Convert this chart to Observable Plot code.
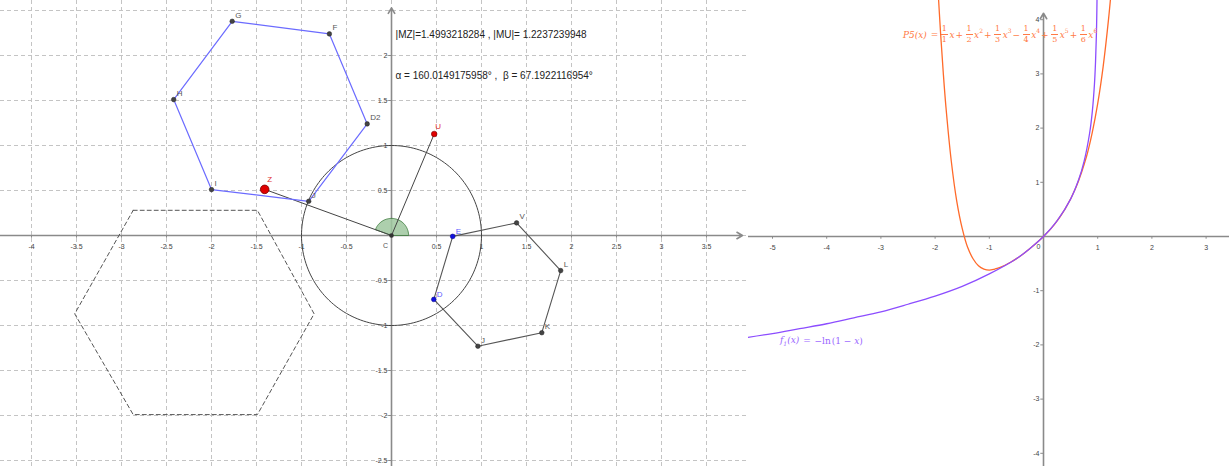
<!DOCTYPE html>
<html>
<head>
<meta charset="utf-8">
<script src="https://cdn.jsdelivr.net/npm/d3@7"></script>
<script src="https://cdn.jsdelivr.net/npm/@observablehq/plot@0.6"></script>
<style>
  html, body { margin: 0; padding: 0; background: #fff; }
  #wrap { position: relative; width: 1229px; height: 466px; overflow: hidden; font-family: "Liberation Sans", Arial, sans-serif; }
  #left { position: absolute; left: 0; top: 0; }
  #right { position: absolute; left: 748px; top: 0; }
  .ov { position: absolute; white-space: nowrap; display: flex; align-items: center; }
  .frac { display: inline-flex; flex-direction: column; align-items: center; font-style: normal; line-height: 1; margin: 0 1.5px; font-size: 8px; }
  .frac .n { border-bottom: 0.8px solid currentColor; padding: 0 1px 1px 1px; }
  .frac .d { padding-top: 1px; }
  .it { font-style: italic; }
  .up { font-style: normal; }
  .t { margin: 0 1px; }
  sup { font-size: 6px; position: relative; top: -1px; vertical-align: super; line-height: 0; }
</style>
</head>
<body>
<div id="wrap">
  <div id="left"></div>
  <div id="right"></div>
  <div class="ov" id="p5" style="left:903px; top:25px; color:#ff7a45; font-family:'DejaVu Serif', serif; font-size:9px;">
    <span class="it">P5(x)</span><span class="t up">&nbsp;=</span>
    <span class="frac"><span class="n">1</span><span class="d">1</span></span><span class="it">x</span><span class="t up">+</span>
    <span class="frac"><span class="n">1</span><span class="d">2</span></span><span class="it">x<sup class="up">2</sup></span><span class="t up">+</span>
    <span class="frac"><span class="n">1</span><span class="d">3</span></span><span class="it">x<sup class="up">3</sup></span><span class="t up">−</span>
    <span class="frac"><span class="n">1</span><span class="d">4</span></span><span class="it">x<sup class="up">4</sup></span><span class="t up">+</span>
    <span class="frac"><span class="n">1</span><span class="d">5</span></span><span class="it">x<sup class="up">5</sup></span><span class="t up">+</span>
    <span class="frac"><span class="n">1</span><span class="d">6</span></span><span class="it">x<sup class="up">6</sup></span>
  </div>
  <div class="ov" id="f1" style="left:780px; top:335px; color:#9a66ff; font-family:'DejaVu Serif', serif; font-size:9px;">
    <span class="it">f<sub style="font-size:6px">1</sub>(x)</span><span class="t">&nbsp;=</span><span>&nbsp;−ln</span><span class="t">(1 − <span class="it">x</span>)</span>
  </div>
</div>
<script>
// ---------- LEFT PANEL DATA (geometry view) ----------
const gridX = [-4, -3.5, -3, -2.5, -2, -1.5, -1, -0.5, 0, 0.5, 1, 1.5, 2, 2.5, 3, 3.5];
const gridY = [-2.5, -2, -1.5, -1, -0.5, 0, 0.5, 1, 1.5, 2, 2.5];
const leftXTicks = [-4, -3.5, -3, -2.5, -2, -1.5, -1, -0.5, 0.5, 1, 1.5, 2, 2.5, 3, 3.5];
const leftYTicks = [-2.5, -2, -1.5, -1, -0.5, 0.5, 1, 1.5, 2];
const leftXAxis = [{x1: -4.35, y1: 0, x2: 3.9, y2: 0}];
const leftYAxis = [{x1: 0, y1: -2.6, x2: 0, y2: 2.53}];

// blue hexagon I H G F D2 J
const blueHexNames = ["I", "H", "G", "F", "D2", "J"];
const blueHexX = [-2.00, -2.42, -1.77, -0.69, -0.27, -0.92];
const blueHexY = [0.51, 1.51, 2.38, 2.24, 1.24, 0.38];

// black hexagon E V L K J D
const blackHexNames = ["E", "V", "L", "K", "J", "D"];
const blackHexX = [0.68, 1.39, 1.88, 1.67, 0.96, 0.47];
const blackHexY = [-0.01, 0.14, -0.39, -1.08, -1.23, -0.71];

// dashed hexagon
const dashHexX = [-2.87, -1.49, -0.86, -1.49, -2.87, -3.52];
const dashHexY = [0.28, 0.28, -0.87, -1.99, -1.99, -0.87];

// named points
const pointC = {name: "C", x: 0, y: 0};
const pointZ = {name: "Z", x: -1.409, y: 0.5126};
const pointU = {name: "U", x: 0.4745, y: 1.128};
const circleRadius = 1;
const angleRadius = 0.19;
const alphaDeg = 160.0149175958;

const statements = [
  {text: "|MZ|=1.4993218284 , |MU|= 1.2237239948", x: 0.045, y: 2.225},
  {text: "α = 160.0149175958° ,  β = 67.1922116954°", x: 0.045, y: 1.78}
];

// ---------- RIGHT PANEL DATA (graphics view 2) ----------
const rightXTicks = [-5, -4, -3, -2, -1, 1, 2, 3];
const rightYTicks = [-4, -3, -2, -1, 1, 2, 3, 4];
const rightXAxis = [{x1: -5.45, y1: 0, x2: 3.44, y2: 0}];
const rightYAxis = [{x1: 0, y1: -4.3, x2: 0, y2: 4.12}];

// f1(x) = -ln(1-x)
const f1X = [-5.45, -5, -4.5, -4, -3.5, -3, -2.5, -2, -1.5, -1, -0.5, -0.25, 0, 0.25, 0.5, 0.65, 0.75, 0.85, 0.9, 0.94, 0.96, 0.975, 0.985, 0.99];
const f1Y = [-1.86, -1.79, -1.70, -1.61, -1.50, -1.39, -1.25, -1.10, -0.92, -0.69, -0.41, -0.22, 0, 0.29, 0.69, 1.05, 1.39, 1.90, 2.30, 2.81, 3.22, 3.69, 4.20, 4.61];

// P5(x) Taylor polynomial
const p5X = [-1.95, -1.9, -1.85, -1.8, -1.7, -1.6, -1.5, -1.4, -1.3, -1.2, -1.1, -1.0, -0.9, -0.8, -0.6, -0.4, -0.2, 0, 0.2, 0.4, 0.6, 0.8, 0.9, 1.0, 1.1, 1.2, 1.25];
const p5Y = [4.62, 3.77, 3.03, 2.39, 1.38, 0.65, 0.15, -0.20, -0.41, -0.54, -0.60, -0.62, -0.60, -0.57, -0.47, -0.34, -0.18, 0, 0.22, 0.51, 0.91, 1.50, 1.92, 2.45, 3.13, 4.01, 4.54];

// ---------- build tables ----------
const zip = (xs, ys, names) => xs.map((x, i) => ({x, y: ys[i], name: names ? names[i] : undefined}));
const closeRing = a => a.concat([a[0]]);
const blueHex = zip(blueHexX, blueHexY, blueHexNames);
const blackHex = zip(blackHexX, blackHexY, blackHexNames);
const dashHex = zip(dashHexX, dashHexY);
const circlePts = d3.range(0, 361, 2).map(a => ({x: circleRadius * Math.cos(a * Math.PI / 180), y: circleRadius * Math.sin(a * Math.PI / 180)}));
const sectorPts = [{x: 0, y: 0}].concat(d3.range(0, alphaDeg, 4).concat([alphaDeg]).map(a => ({x: angleRadius * Math.cos(a * Math.PI / 180), y: angleRadius * Math.sin(a * Math.PI / 180)}))).concat([{x: 0, y: 0}]);
const f1 = zip(f1X, f1Y);
const p5 = zip(p5X, p5Y);
const fmt = d => String(d);

const FONT = "Liberation Sans, Arial, sans-serif";
const AX = "#8a8a8a";

const left = Plot.plot({
  width: 746, height: 466, margin: 0,
  x: {domain: [-391 / 90, (746 - 391) / 90], axis: null},
  y: {domain: [-(466 - 235) / 90, 235 / 90], axis: null},
  style: {fontFamily: FONT, background: "#fff"},
  marks: [
    Plot.ruleX(gridX, {x: d => d, stroke: "#c4c4c4", strokeDasharray: "4,3", strokeWidth: 1}),
    Plot.ruleY(gridY, {y: d => d, stroke: "#c4c4c4", strokeDasharray: "4,3", strokeWidth: 1}),
    Plot.arrow(leftXAxis, {x1: "x1", y1: "y1", x2: "x2", y2: "y2", stroke: AX, strokeWidth: 1.6, headLength: 6}),
    Plot.arrow(leftYAxis, {x1: "x1", y1: "y1", x2: "x2", y2: "y2", stroke: AX, strokeWidth: 1.6, headLength: 6}),
    Plot.ruleX(leftXTicks, {x: d => d, y1: -0.03, y2: 0.0, stroke: AX}),
    Plot.ruleY(leftYTicks, {y: d => d, x1: -0.03, x2: 0.0, stroke: AX}),
    Plot.text(leftXTicks, {x: d => d, y: 0, text: fmt, dy: 11, fontSize: 7, fill: "#444"}),
    Plot.text(leftYTicks, {x: 0, y: d => d, text: fmt, dx: -4, textAnchor: "end", fontSize: 7, fill: "#444"}),
    Plot.line(closeRing(dashHex), {x: "x", y: "y", stroke: "#555", strokeDasharray: "4,3", strokeWidth: 1}),
    Plot.line(circlePts, {x: "x", y: "y", stroke: "#444", strokeWidth: 1}),
    Plot.line(sectorPts, {x: "x", y: "y", fill: "#9fc79f", fillOpacity: 0.85, stroke: "#3b7a3b", strokeWidth: 0.8}),
    Plot.link([pointZ], {x1: "x", y1: "y", x2: 0, y2: 0, stroke: "#444", strokeWidth: 1}),
    Plot.link([pointU], {x1: 0, y1: 0, x2: "x", y2: "y", stroke: "#444", strokeWidth: 1}),
    Plot.line(closeRing(blueHex), {x: "x", y: "y", stroke: "#6b6bff", strokeWidth: 1.2}),
    Plot.line(closeRing(blackHex), {x: "x", y: "y", stroke: "#555", strokeWidth: 1.1}),
    Plot.dot(blueHex, {x: "x", y: "y", r: 2.3, fill: "#444", stroke: "#222", strokeWidth: 0.5}),
    Plot.dot(blackHex.filter(d => d.name !== "E" && d.name !== "D"), {x: "x", y: "y", r: 2.3, fill: "#444", stroke: "#222", strokeWidth: 0.5}),
    Plot.dot(blackHex.filter(d => d.name === "E" || d.name === "D"), {x: "x", y: "y", r: 2.4, fill: "#1010e0", stroke: "#000080", strokeWidth: 0.5}),
    Plot.dot([pointC], {x: "x", y: "y", r: 2.3, fill: "#333"}),
    Plot.dot([pointZ], {x: "x", y: "y", r: 4.3, fill: "#e00000", stroke: "#700", strokeWidth: 0.8}),
    Plot.dot([pointU], {x: "x", y: "y", r: 2.8, fill: "#e00000", stroke: "#700", strokeWidth: 0.6}),
    Plot.text(blueHex, {x: "x", y: "y", text: "name", dx: 3, dy: -6, textAnchor: "start", fontSize: 8, fill: "#555"}),
    Plot.text(blackHex.filter(d => d.name !== "E" && d.name !== "D"), {x: "x", y: "y", text: "name", dx: 3, dy: -6, textAnchor: "start", fontSize: 8, fill: "#555"}),
    Plot.text(blackHex.filter(d => d.name === "E" || d.name === "D"), {x: "x", y: "y", text: "name", dx: 3, dy: -5, textAnchor: "start", fontSize: 8, fill: "#5a5aff"}),
    Plot.text([pointC], {x: "x", y: "y", text: "name", dx: -6, dy: 10, fontSize: 7, fill: "#555"}),
    Plot.text([pointZ], {x: "x", y: "y", text: "name", dx: 5, dy: -10, fontSize: 8, fill: "#e03030"}),
    Plot.text([pointU], {x: "x", y: "y", text: "name", dx: 4, dy: -8, fontSize: 8, fill: "#e03030"}),
    Plot.text(statements, {x: "x", y: "y", text: "text", textAnchor: "start", fontSize: 10, fill: "#222"})
  ]
});
document.getElementById("left").appendChild(left);

const right = Plot.plot({
  width: 481, height: 466, margin: 0,
  x: {domain: [(748 - 1043) / 54.2, (1229 - 1043) / 54.2], axis: null},
  y: {domain: [-(466 - 236) / 54.2, 236 / 54.2], axis: null},
  style: {fontFamily: FONT, background: "#fff"},
  marks: [
    Plot.ruleY(rightXAxis, {x1: "x1", x2: "x2", y: "y1", stroke: AX, strokeWidth: 1.6}),
    Plot.arrow(rightYAxis, {x1: "x1", y1: "y1", x2: "x2", y2: "y2", stroke: AX, strokeWidth: 1.6, headLength: 6}),
    Plot.ruleX(rightXTicks, {x: d => d, y1: -0.05, y2: 0.0, stroke: AX}),
    Plot.ruleY(rightYTicks, {y: d => d, x1: -0.05, x2: 0.0, stroke: AX}),
    Plot.text(rightXTicks, {x: d => d, y: 0, text: fmt, dy: 11, fontSize: 7, fill: "#444"}),
    Plot.text([0], {x: 0, y: 0, text: fmt, dx: -5, dy: 10, fontSize: 7, fill: "#444"}),
    Plot.text(rightYTicks, {x: 0, y: d => d, text: fmt, dx: -4, textAnchor: "end", fontSize: 7, fill: "#444"}),
    Plot.line(p5, {x: "x", y: "y", stroke: "#ff6a2a", strokeWidth: 1.3, curve: "catmull-rom", clip: true}),
    Plot.line(f1, {x: "x", y: "y", stroke: "#8c4dff", strokeWidth: 1.3, curve: "catmull-rom", clip: true})
  ]
});
document.getElementById("right").appendChild(right);
</script>
</body>
</html>
